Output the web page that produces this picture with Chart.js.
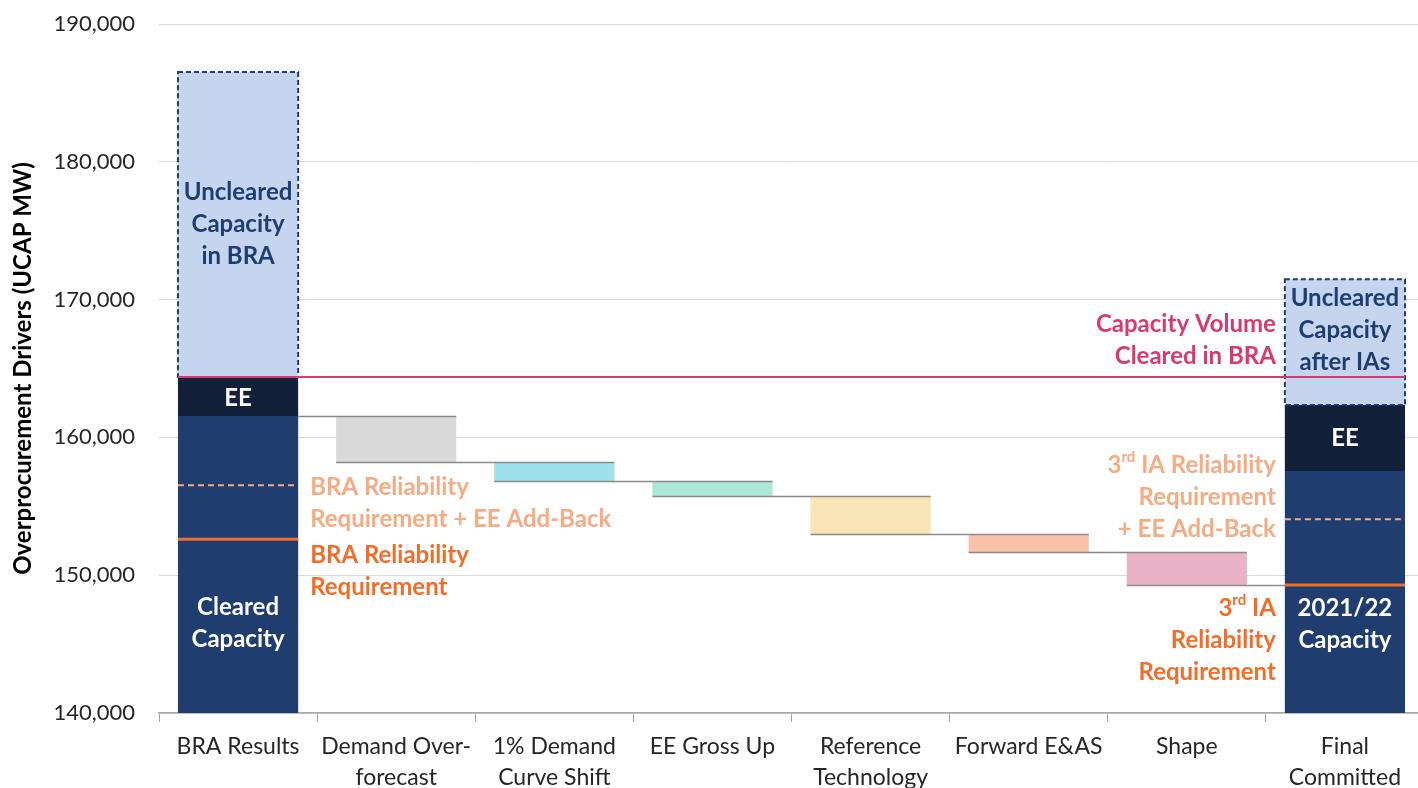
<!DOCTYPE html>
<html lang="en">
<head>
  <meta charset="UTF-8" />
  <title>Overprocurement Drivers</title>
  <script src="https://cdn.jsdelivr.net/npm/chart.js"></script>
  <style>
    html, body { margin: 0; padding: 0; background: #fff; overflow: hidden; }
    #wrap { width: 1424px; height: 788px; position: relative; }
  </style>
</head>
<body>
  <div id="wrap"><canvas id="chart"></canvas></div>

  <script>
    const categories = [
      ['BRA Results'], ['Demand Over-', 'forecast'], ['1% Demand', 'Curve Shift'], ['EE Gross Up'],
      ['Reference', 'Technology'], ['Forward E&AS'], ['Shape'], ['Final', 'Committed']
    ];
    const axisMin = 140000, axisMax = 190000, axisStep = 10000;

    // BRA column (UCAP MW)
    const braCleared = 161550;
    const braEE = 2830;
    const braUncleared = 22130;
    // drivers between BRA and final committed
    const driverChanges = [-3360, -1360, -1090, -2780, -1285, -2395];
    // final committed column
    const finalCleared = 157560;
    const finalEE = 4790;
    const finalUncleared = 9120;
    // requirement lines
    const braRequirement = 152600;
    const braRequirementPlusEE = 156520;
    const iaRequirement = 149290;
    const iaRequirementPlusEE = 154060;

    const driverColors = ['#d9d9d9', '#9be0ea', '#ade7d7', '#f9e4b6', '#f8c1a5', '#eab2c6'];

    const n = categories.length, last = n - 1;
    const clearedData = Array(n).fill(null);
    const eeData = Array(n).fill(null);
    const unclearedData = Array(n).fill(null);
    const driverData = Array(n).fill(null);
    const driverBg = Array(n).fill('transparent');

    clearedData[0] = [axisMin, braCleared];
    eeData[0] = [braCleared, braCleared + braEE];
    unclearedData[0] = [braCleared + braEE, braCleared + braEE + braUncleared];
    clearedData[last] = [axisMin, finalCleared];
    eeData[last] = [finalCleared, finalCleared + finalEE];
    unclearedData[last] = [finalCleared + finalEE, finalCleared + finalEE + finalUncleared];

    const levels = [braCleared];
    let level = braCleared;
    driverChanges.forEach((c, i) => {
      const next = level + c;
      driverData[i + 1] = [next, level];
      driverBg[i + 1] = driverColors[i];
      level = next;
      levels.push(level);
    });

    const NAVY = '#1f3d6e', DARK = '#132039', LIGHT = '#c5d5ef';
    const PEACH = '#f5ab83', ORANGE = '#f06e2a', MAGENTA = '#d63a6e';
    const FONT = 'Lato';
    const LINE = 32;

    function barBox(chart, dsIndex, i) {
      const el = chart.getDatasetMeta(dsIndex).data[i];
      return { left: el.x - el.width / 2, right: el.x + el.width / 2, x: el.x, width: el.width };
    }

    function hLine(ctx, x1, x2, y, color, width, dash) {
      ctx.save();
      ctx.strokeStyle = color;
      ctx.lineWidth = width;
      ctx.setLineDash(dash || []);
      ctx.beginPath();
      ctx.moveTo(x1, y);
      ctx.lineTo(x2, y);
      ctx.stroke();
      ctx.restore();
    }

    // parts: [{t, sup}] drawn on one line
    function richText(ctx, parts, x, y, align, color) {
      const big = 'bold 24px ' + FONT, small = 'bold 15px ' + FONT;
      let total = 0;
      parts.forEach(p => { ctx.font = p.sup ? small : big; total += ctx.measureText(p.t).width; });
      let cx = align === 'right' ? x - total : align === 'center' ? x - total / 2 : x;
      ctx.fillStyle = color;
      ctx.textBaseline = 'middle';
      ctx.textAlign = 'left';
      parts.forEach(p => {
        ctx.font = p.sup ? small : big;
        ctx.fillText(p.t, cx, p.sup ? y - 8 : y);
        cx += ctx.measureText(p.t).width;
      });
    }

    function textBlock(ctx, lines, x, y, align, color) {
      lines.forEach((ln, k) => {
        const parts = typeof ln === 'string' ? [{ t: ln }] : ln;
        richText(ctx, parts, x, y + k * LINE, align, color);
      });
    }

    const overlay = {
      id: 'overlay',
      afterDatasetsDraw(chart) {
        const ctx = chart.ctx, y = chart.scales.y;
        const py = v => y.getPixelForValue(v);

        // connectors between waterfall steps
        levels.forEach((lv, k) => {
          const x1 = k === 0 ? barBox(chart, 0, 0).right : barBox(chart, 3, k).left;
          const x2 = k + 1 === last ? barBox(chart, 0, last).left : barBox(chart, 3, k + 1).right;
          hLine(ctx, x1, x2, Math.round(py(lv)) + 0.5, '#8a8a8a', 1.6);
        });

        // dashed outline for uncleared capacity
        [0, last].forEach(i => {
          const el = chart.getDatasetMeta(2).data[i];
          ctx.save();
          ctx.strokeStyle = NAVY;
          ctx.lineWidth = 2;
          ctx.setLineDash([5, 3]);
          ctx.strokeRect(el.x - el.width / 2, el.y, el.width, el.base - el.y);
          ctx.restore();
        });

        // reliability requirement lines
        const b0 = barBox(chart, 0, 0), bl = barBox(chart, 0, last);
        hLine(ctx, b0.left, b0.right, py(braRequirementPlusEE), PEACH, 2, [6, 4]);
        hLine(ctx, b0.left, b0.right, py(braRequirement), ORANGE, 3);
        hLine(ctx, bl.left, bl.right, py(iaRequirementPlusEE), PEACH, 2, [6, 4]);
        hLine(ctx, bl.left, bl.right, py(iaRequirement), ORANGE, 3);

        // capacity volume cleared in BRA
        hLine(ctx, b0.left, bl.right, py(braCleared + braEE), MAGENTA, 2);
      },
      afterDraw(chart) {
        const ctx = chart.ctx, y = chart.scales.y;
        const py = v => y.getPixelForValue(v);
        const b0 = barBox(chart, 0, 0), bl = barBox(chart, 0, last);
        const sup3 = rest => [{ t: '3' }, { t: 'rd', sup: true }, { t: rest }];
        ctx.save();

        // inside BRA column
        const brTop = braCleared + braEE;
        textBlock(ctx, ['Uncleared', 'Capacity', 'in BRA'], b0.x, py(brTop + braUncleared / 2) - LINE, 'center', NAVY);
        textBlock(ctx, ['EE'], b0.x, py(braCleared + braEE / 2) + 2, 'center', '#fff');
        textBlock(ctx, ['Cleared', 'Capacity'], b0.x, py(axisMin) - 106, 'center', '#fff');

        // inside final column
        const fTop = finalCleared + finalEE;
        textBlock(ctx, ['Uncleared', 'Capacity', 'after IAs'], bl.x, py(fTop + finalUncleared) + 19, 'center', NAVY);
        textBlock(ctx, ['EE'], bl.x, py(finalCleared + finalEE / 2), 'center', '#fff');
        textBlock(ctx, ['2021/22', 'Capacity'], bl.x, py(axisMin) - 105, 'center', '#fff');

        // BRA requirement annotations
        textBlock(ctx, ['BRA Reliability', 'Requirement + EE Add-Back'], b0.right + 12, py(braRequirementPlusEE) + 2, 'left', PEACH);
        textBlock(ctx, ['BRA Reliability', 'Requirement'], b0.right + 12, py(braRequirement) + 16, 'left', ORANGE);

        // right-side annotations
        textBlock(ctx, ['Capacity Volume', 'Cleared in BRA'], bl.left - 9, py(brTop) - 53, 'right', MAGENTA);
        textBlock(ctx, [sup3(' IA Reliability'), 'Requirement', '+ EE Add-Back'], bl.left - 9, py(iaRequirementPlusEE) - 54, 'right', PEACH);
        textBlock(ctx, [sup3(' IA'), 'Reliability', 'Requirement'], bl.left - 9, py(iaRequirement) + 23, 'right', ORANGE);
        ctx.restore();
      }
    };

    const common = { grouped: false, barPercentage: 0.76, categoryPercentage: 1.0, borderWidth: 0 };

    new Chart(document.getElementById('chart'), {
      type: 'bar',
      data: {
        labels: categories,
        datasets: [
          { ...common, label: 'Cleared Capacity', data: clearedData, backgroundColor: NAVY },
          { ...common, label: 'EE', data: eeData, backgroundColor: DARK },
          { ...common, label: 'Uncleared Capacity', data: unclearedData, backgroundColor: LIGHT },
          { ...common, label: 'Drivers', data: driverData, backgroundColor: driverBg }
        ]
      },
      options: {
        responsive: true,
        maintainAspectRatio: false,
        animation: false,
        layout: { padding: 0 },
        plugins: { legend: { display: false }, tooltip: { enabled: false } },
        scales: {
          x: {
            grid: { offset: true, drawOnChartArea: false, tickLength: 9, color: '#a6a6a6' },
            border: { color: '#a6a6a6', width: 1.5 },
            ticks: { font: { family: FONT, size: 23, lineHeight: 1.35 }, color: '#262626', padding: 9, maxRotation: 0, autoSkip: false },
            afterFit(s) { s.height = 75; }
          },
          y: {
            min: axisMin,
            max: axisMax,
            grid: { color: '#d9d9d9', drawTicks: false },
            border: { display: false },
            ticks: {
              stepSize: axisStep,
              font: { family: FONT, size: 22 },
              color: '#262626',
              padding: 24,
              callback: v => v.toLocaleString('en-US')
            },
            title: {
              display: true,
              text: 'Overprocurement Drivers (UCAP MW)',
              font: { family: FONT, size: 24, weight: 'bold' },
              color: '#000',
              padding: { top: 9, bottom: 0 }
            },
            afterFit(s) {
              s.width = 159;
              s.paddingTop = 24;
              s.paddingBottom = 0;
            }
          }
        }
      },
      plugins: [overlay]
    });
  </script>
</body>
</html>
